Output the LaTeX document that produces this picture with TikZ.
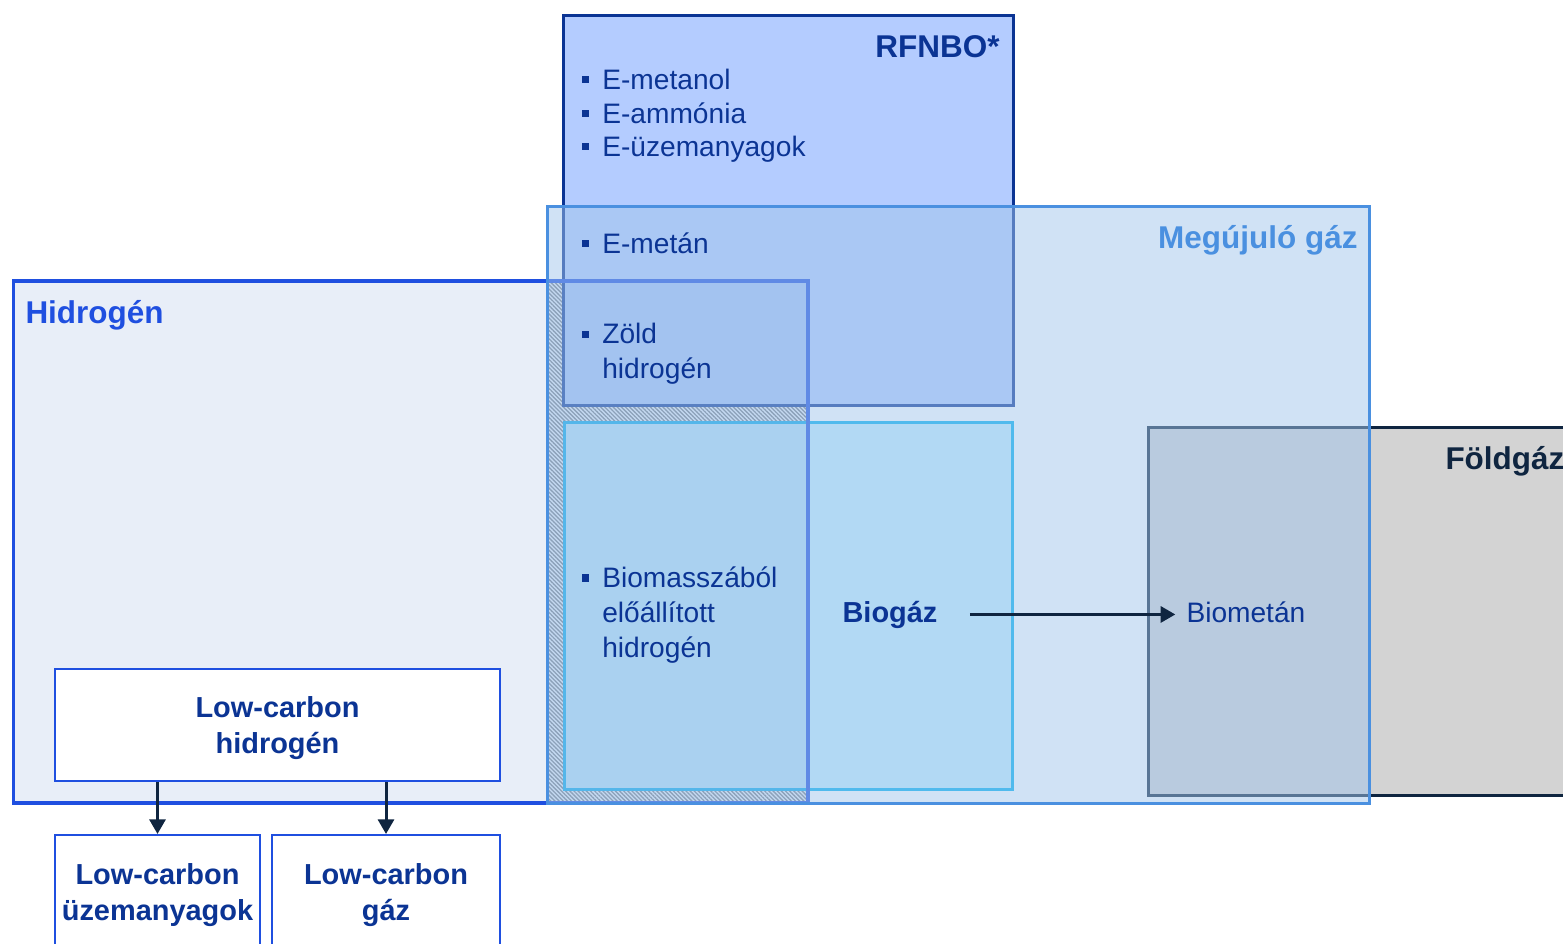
\documentclass[tikz,border=0pt]{standalone}
\usepackage{fontspec}
\setmainfont{Liberation Sans}
\usetikzlibrary{arrows.meta,patterns.meta}

\definecolor{navy}{RGB}{15,37,64}
\definecolor{txtblue}{RGB}{11,52,148}
\definecolor{hidblue}{RGB}{31,79,224}
\definecolor{hidtint}{RGB}{68,114,196}
\definecolor{megblue}{RGB}{74,144,224}
\definecolor{megfill}{RGB}{161,197,235}
\definecolor{rfnfill}{RGB}{180,204,255}
\definecolor{biofill}{RGB}{197,238,255}
\definecolor{bioline}{RGB}{0,176,240}
\definecolor{gasfill}{RGB}{211,211,211}

\tikzset{every picture/.style={line width=0.75pt}}
\tikzset{
  bodytext/.style={inner sep=0pt, text=txtblue, font=\fontsize{21.1}{26.25}\selectfont, align=left},
  titletext/.style={inner sep=0pt, font=\fontsize{23.6}{28}\selectfont\bfseries},
  boldtext/.style={inner sep=0pt, text=txtblue, font=\fontsize{21.7}{26.6}\selectfont\bfseries, align=center},
  lowbox/.style={boldtext, draw=hidblue, line width=1.8pt, fill=white},
  flow/.style={draw=navy, line width=2.25pt, -{Triangle[length=11pt,width=12pt]}}
}
\newcommand{\sqb}{\makebox[0.74em][l]{\raisebox{0.2em}{\rule{0.27em}{0.27em}}}}
\newcommand{\sqgap}{\hspace*{0.74em}}

\begin{document}
\begin{tikzpicture}[x=0.75pt,y=0.75pt,yscale=-1,xscale=1]
    \useasboundingbox (0,0) rectangle (1563,943);
    \clip (0,0) rectangle (1563,943);

    %Shape: Rectangle [Foldgaz]
    \draw [draw=navy, fill=gasfill, line width=2.25pt] (1148,427) rectangle (1590,795);
    %Shape: Rectangle [hatched overlap]
    \fill [white] (547,281) rectangle (808,803);
    \fill [pattern={Lines[angle=-45,distance=2.2pt,line width=1pt]}, pattern color=gray] (547,281) rectangle (808,803);
    %Shape: Rectangle [RFNBO]
    \draw [draw=txtblue, fill=rfnfill, line width=2.25pt] (563.5,15) rectangle (1013.5,405);
    %Shape: Rectangle [Biogaz]
    \draw [draw=bioline, fill=biofill, line width=2.25pt] (564,422) rectangle (1012,789);
    %Shape: Rectangle [Hidrogen]
    \draw [draw=hidblue, fill=hidtint, fill opacity=0.12, line width=2.6pt] (13.5,281) rectangle (808,803);
    %Shape: Rectangle [Megujulo gaz]
    \draw [draw=megblue, fill=megfill, fill opacity=0.5, line width=2.25pt] (547.5,206) rectangle (1369,803);

    % Text Node
    \node (rfnbo) [titletext, text=txtblue, anchor=base east] at (1000,57) {RFNBO*};
    % Text Node
    \node (meg) [titletext, text=megblue, anchor=base east] at (1358,248) {Megújuló gáz};
    % Text Node
    \node (hid) [titletext, text=hidblue, anchor=base west] at (25,323) {Hidrogén};
    % Text Node
    \node (fold) [titletext, text=navy, anchor=base west] at (1445,469) {Földgáz};

    % Text Node
    \node (emet) [bodytext, anchor=base west] at (581,89) {\sqb E-metanol};
    % Text Node
    \node (eamm) [bodytext, anchor=base west] at (581,123) {\sqb E-ammónia};
    % Text Node
    \node (euzem) [bodytext, anchor=base west] at (581,156) {\sqb E-üzemanyagok};
    % Text Node
    \node (emetan) [bodytext, anchor=base west] at (581,253) {\sqb E-metán};
    % Text Node
    \node (zold) [bodytext, anchor=west] at (581,354) {\sqb Zöld\\\sqgap hidrogén};
    % Text Node
    \node (biomh) [bodytext, anchor=west] at (581,615) {\sqb Biomasszából\\\sqgap előállított\\\sqgap hidrogén};

    % Text Node
    \node (bg) [boldtext, anchor=base] at (890,622) {Biogáz};
    % Text Node
    \node (bm) [bodytext, anchor=base west] at (1186,622) {Biometán};
    \draw [flow, shorten <=24pt, shorten >=8pt] (bg.east) -- (bg.east -| bm.west);

    % Low-carbon boxes
    \node (lch) [lowbox, text depth=0pt, minimum width=333.75pt, minimum height=84pt] at (277.5,725) {Low-carbon\\hidrogén};
    \node (lcu) [lowbox, minimum width=153.75pt, minimum height=90pt, anchor=north] at (157.5,834) {Low-carbon\\üzemanyagok};
    \node (lcg) [lowbox, minimum width=171pt, minimum height=90pt, anchor=north] at (386,834) {Low-carbon\\gáz};
    \draw [flow] (lch.south -| lcu.north) -- (lcu.north);
    \draw [flow] (lch.south -| lcg.north) -- (lcg.north);
\end{tikzpicture}
\end{document}
